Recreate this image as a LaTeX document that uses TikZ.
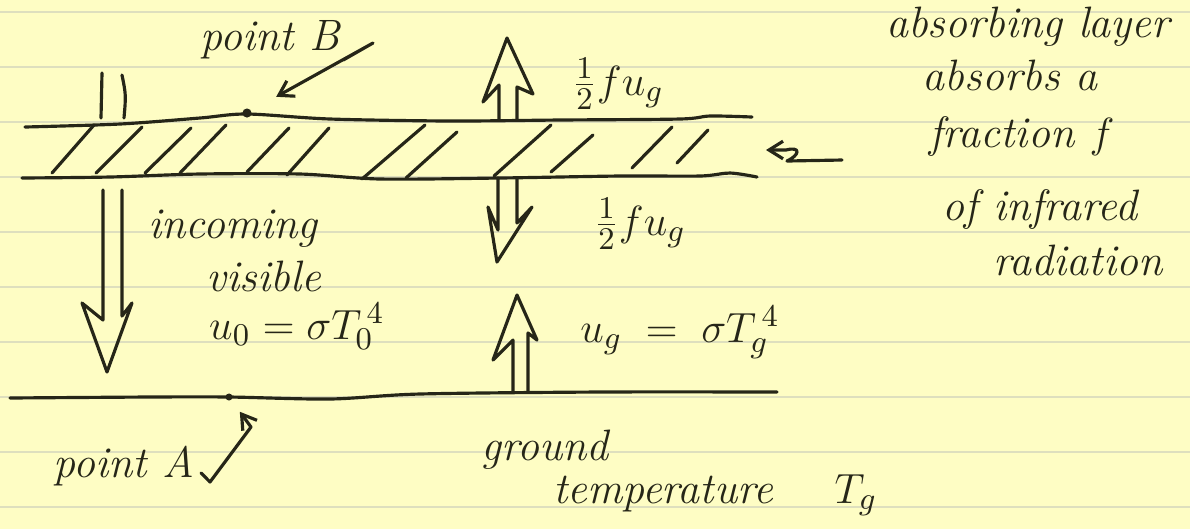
\documentclass[tikz,border=0pt]{standalone}
\usetikzlibrary{arrows.meta}
\definecolor{paper}{RGB}{254,253,196}
\definecolor{rulec}{RGB}{222,223,190}
\definecolor{inkc}{RGB}{38,38,24}
\begin{document}
\begin{tikzpicture}[x=0.01cm, y=-0.01cm,
    ink/.style={draw=inkc, line width=0.9pt, line cap=round, line join=round},
    hand/.style={text=inkc, font=\fontsize{12.5}{14}\selectfont\itshape, inner sep=0pt, anchor=base},
    dot/.style={circle, fill=inkc, inner sep=0pt, minimum size=#1},
    handarrow/.style={-{Straight Barb[length=4pt,width=5pt]}}]
    % Paper
    \fill[paper] (0,0) rectangle (1190,529);
    \useasboundingbox (0,0) rectangle (1190,529);
    \foreach \k in {0,...,9} {
        \draw[rulec, line width=0.6pt] (0,{12+55*\k}) -- (1190,{12+55*\k});
    }

    % Absorbing layer
    \draw[ink] plot[smooth] coordinates {(25,127) (120,124) (200,118) (247,114) (330,119) (450,121) (560,120) (680,119) (710,116) (752,117)};
    \draw[ink] plot[smooth] coordinates {(22,178) (110,177) (200,174) (300,174) (380,179) (500,178) (620,176) (700,176) (730,173) (757,177)};
    \foreach \xa/\ya/\xb/\yb in {52/173/94/125, 96/173/142/127, 145/173/191/128, 180/173/226/125,
        247/172/289/128, 287/175/329/128, 362/179/425/125, 406/178/457/132,
        494/176/551/125, 551/172/593/135, 632/168/672/127, 677/163/708/130} {
        \draw[ink] (\xa,\ya) -- (\xb,\yb);
    }

    % Ground
    \draw[ink] plot[smooth] coordinates {(10,398) (150,397) (229,397) (330,399) (420,394) (600,392) (777,392)};

    % Points
    \node[dot=2.6pt] (B) at (247,113) {};
    \node[dot=2pt] (A) at (229,397) {};

    % Hollow arrows
    \draw[ink] (102,73) -- (101,118);
    \draw[ink] (122,75) .. controls (126,95) .. (124,118);
    \draw[ink] (103,190) -- (103,320) -- (82,303) -- (107,372) -- (132,303) -- (122,316) -- (122,190);
    \draw[ink] (499,120) -- (499,85) -- (483,102) -- (507,38) -- (533,94) -- (517,87) -- (517,120);
    \draw[ink] (498,178) -- (498,230) -- (488,207) -- (497,262) -- (532,207) -- (517,223) -- (517,178);
    \draw[ink] (513,392) -- (513,340) -- (493,360) -- (517,295) -- (537,340) -- (528,333) -- (528,392);

    % Labels
    \node[hand] (pB) at (270,50) {point B};
    \node[hand] (pA) at (124,477) {point A};
    \node[hand] (upflux) at (618,95) {$\frac12 f u_g$};
    \node[hand] (downflux) at (640,235) {$\frac12 f u_g$};
    \node[hand] (inc1) at (233,238) {incoming};
    \node[hand] (inc2) at (264,291) {visible};
    \node[hand] (inc3) at (297,339) {$u_0 = \sigma T_0^{\,4}$};
    \node[hand] (emit) at (680,342) {$u_g \;=\; \sigma T_g^{\,4}$};
    \node[hand] (gr1) at (545,460) {ground};
    \node[hand] (gr2) at (663,503) {temperature};
    \node[hand] (gr3) at (856,503) {$T_g$};
    \node[hand] (ab1) at (1028,37) {absorbing layer};
    \node[hand] (ab2) at (1010,90) {absorbs a};
    \node[hand] (ab3) at (1022,147) {fraction $f$};
    \node[hand] (ab4) at (1040,220) {of infrared};
    \node[hand] (ab5) at (1078,275) {radiation};

    % Pointers
    \coordinate (Bbend) at (373,43);
    \draw[ink, handarrow, shorten >=8pt] ([shift={(3,10)}]pB.base east) -- (Bbend) -- (B);
    \draw[ink, handarrow, shorten >=4pt] ([shift={(6,-4)}]pA.base east) -- (210,482) -- (251,427) -- (A);
    \coordinate (layerR) at (766,150);
    \draw[ink, handarrow] (842,160) -- (787,161) .. controls (800,155) and (801,146) .. (786,150) -- (layerR);
\end{tikzpicture}
\end{document}
